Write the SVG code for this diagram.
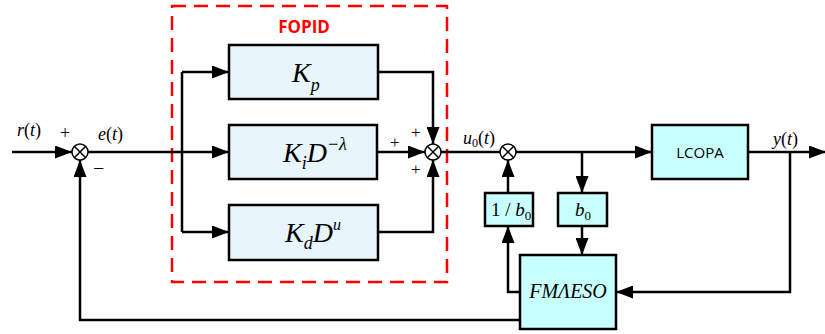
<svg xmlns="http://www.w3.org/2000/svg" width="825" height="334" viewBox="0 0 825 334">
<style>
.blk{fill:#E8F5FC;stroke:#000;stroke-width:2.5}
.cy{fill:#C8FFFF;stroke:#000;stroke-width:2.5}
.ln{fill:none;stroke:#000;stroke-width:2.5}
.ar{fill:none;stroke:#000;stroke-width:2.5;marker-end:url(#ah)}
.sum circle{fill:#fff;stroke:#000;stroke-width:1.5}
.sum line{stroke:#000;stroke-width:1.5}
.it{font-style:italic}
</style>
<defs>
<marker id="ah" markerUnits="userSpaceOnUse" markerWidth="18" markerHeight="13" refX="17" refY="6.5" orient="auto">
<path d="M0,0 L17,6.5 L0,13 z" fill="#000"/>
</marker>
</defs>
<rect id="fopid-frame" x="172" y="6" width="275" height="276" fill="none" stroke="#FF0000" stroke-width="2.5" stroke-dasharray="14,8"/>
<text x="304" y="33" text-anchor="middle" font-family="Open Sans, Liberation Sans, sans-serif" font-weight="bold" font-size="17" fill="#FF0000">FOPID</text>
<g id="connectors">
<path class="ar" d="M12,152 H72"/>
<path class="ar" d="M88,152 H229"/>
<path class="ln" d="M182,72 V232"/>
<path class="ar" d="M182,72 H229"/>
<path class="ar" d="M182,232 H229"/>
<path class="ar" d="M378,72 H433 V144"/>
<path class="ar" d="M377,152 H425"/>
<path class="ar" d="M378,232 H433 V160"/>
<path class="ln" d="M441,152 H500"/>
<path class="ar" d="M516,152 H652"/>
<path class="ar" d="M582,152 V193"/>
<path class="ar" d="M582,226 V255"/>
<path class="ar" d="M520,292 H508 V226"/>
<path class="ar" d="M508,193 V160"/>
<path class="ar" d="M748,152 H826"/>
<path class="ar" d="M790,152 V292 H616"/>
<path class="ar" d="M520,320 H80 V160"/>
</g>
<g id="sum1" class="sum"><circle cx="80" cy="152" r="8"/><line x1="74.3" y1="146.3" x2="85.7" y2="157.7"/><line x1="85.7" y1="146.3" x2="74.3" y2="157.7"/></g>
<g id="sum2" class="sum"><circle cx="433" cy="152" r="8"/><line x1="427.3" y1="146.3" x2="438.7" y2="157.7"/><line x1="438.7" y1="146.3" x2="427.3" y2="157.7"/></g>
<g id="sum3" class="sum"><circle cx="508" cy="152" r="8"/><line x1="502.3" y1="146.3" x2="513.7" y2="157.7"/><line x1="513.7" y1="146.3" x2="502.3" y2="157.7"/></g>
<g id="kp" font-family="Liberation Serif, Times New Roman, serif"><rect class="blk" x="229" y="45" width="149" height="54"/>
<text class="it" x="292" y="82" font-size="28">K<tspan font-size="18" dy="9">p</tspan></text></g>
<g id="ki" font-family="Liberation Serif, Times New Roman, serif"><rect class="blk" x="229" y="125" width="148" height="54"/>
<text class="it" x="283" y="162" font-size="28">K<tspan font-size="18" dy="7">i</tspan><tspan dy="-7">D</tspan><tspan font-size="18" dy="-12">−λ</tspan></text></g>
<g id="kd" font-family="Liberation Serif, Times New Roman, serif"><rect class="blk" x="229" y="205" width="149" height="55"/>
<text class="it" x="285" y="242" font-size="28">K<tspan font-size="18" dy="7">d</tspan><tspan dy="-7">D</tspan><tspan font-size="16" dy="-12">u</tspan></text></g>
<g id="inv-b0" font-family="Liberation Serif, Times New Roman, serif"><rect class="cy" x="485" y="193" width="48" height="33"/>
<text x="491" y="216" font-size="19">1 / <tspan class="it">b</tspan><tspan font-size="13" dy="4">0</tspan></text></g>
<g id="b0" font-family="Liberation Serif, Times New Roman, serif"><rect class="cy" x="558" y="193" width="49" height="33"/>
<text x="575" y="216" font-size="19"><tspan class="it">b</tspan><tspan font-size="13" dy="4">0</tspan></text></g>
<g id="lcopa"><rect class="cy" x="652" y="125" width="96" height="54"/>
<text x="700" y="158" text-anchor="middle" font-family="Open Sans, Liberation Sans, sans-serif" font-size="15">LCOPA</text></g>
<g id="fmaeso" font-family="Liberation Serif, Times New Roman, serif"><rect class="cy" x="520" y="255" width="96" height="74"/>
<text class="it" x="568" y="298" text-anchor="middle" font-size="20">FMΛESO</text></g>
<g id="labels" font-family="Liberation Serif, Times New Roman, serif">
<text x="17" y="136" font-size="18"><tspan class="it">r</tspan>(<tspan class="it">t</tspan>)</text>
<text x="60" y="139" font-size="18">+</text>
<text x="93" y="175" font-size="20">−</text>
<text x="98" y="140" font-size="18"><tspan class="it">e</tspan>(<tspan class="it">t</tspan>)</text>
<text x="390" y="148" font-size="17">+</text>
<text x="411" y="138" font-size="17">+</text>
<text x="411" y="175" font-size="17">+</text>
<text x="463" y="144" font-size="18"><tspan class="it">u</tspan><tspan font-size="12" dy="3">0</tspan><tspan dy="-3">(</tspan><tspan class="it">t</tspan>)</text>
<text x="773" y="145" font-size="18"><tspan class="it">y</tspan>(<tspan class="it">t</tspan>)</text>
</g>
</svg>
